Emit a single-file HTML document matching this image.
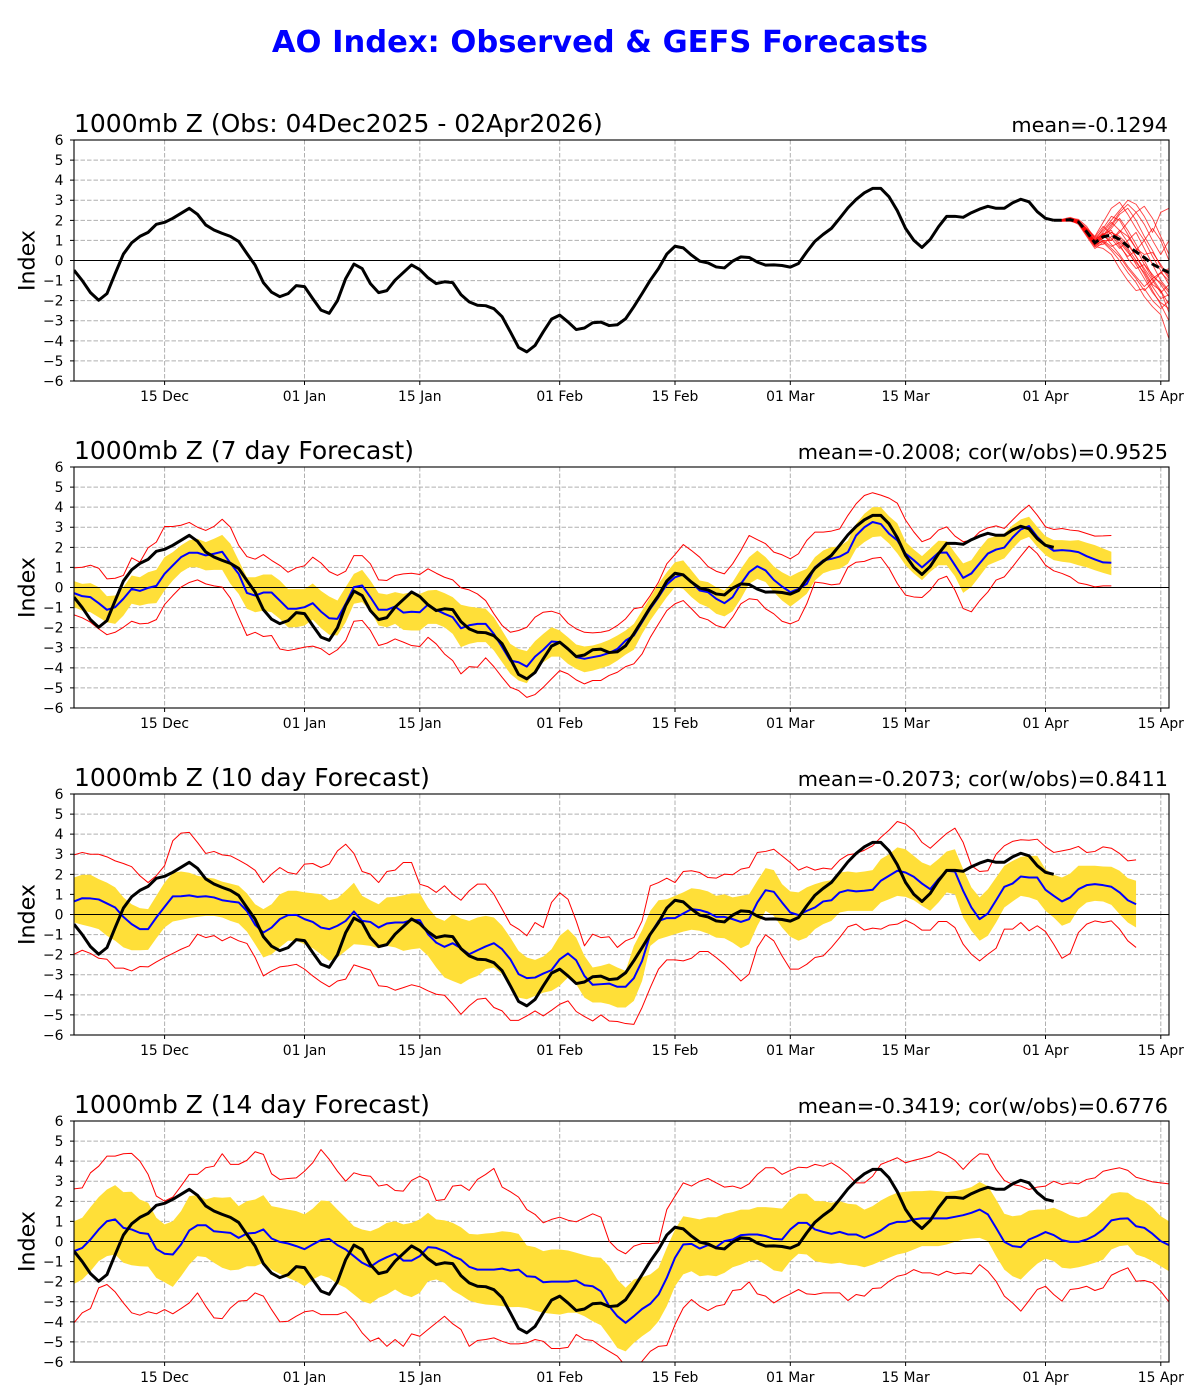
<!DOCTYPE html>
<html><head><meta charset="utf-8"><style>
body{margin:0;background:#fff}
svg{display:block}
text{font-family:"DejaVu Sans","Liberation Sans",sans-serif;fill:#000}
.o{fill:none;stroke:#000;stroke-width:3;stroke-linejoin:round;vector-effect:non-scaling-stroke}
.b{fill:none;stroke:#0000ff;stroke-width:2;stroke-linejoin:round;vector-effect:non-scaling-stroke}
.r{fill:none;stroke:#ff0000;stroke-width:1;stroke-linejoin:round;vector-effect:non-scaling-stroke}
.s{fill:none;stroke:#ff0000;stroke-opacity:0.75;stroke-width:0.9;stroke-linejoin:round;vector-effect:non-scaling-stroke}
.y{fill:#ffdf38;stroke:none}
.z{stroke:#000;stroke-width:1;vector-effect:non-scaling-stroke}
.g{stroke:#b0b0b0;stroke-width:1;stroke-dasharray:4.5,2}
.t{stroke:#000;stroke-width:1}
.yl{font-size:13.9px;text-anchor:end}
.xl{font-size:13.9px;text-anchor:middle}
.tl{font-size:25px}
.tr{font-size:20.8px;text-anchor:end}
.il{font-size:22.2px;text-anchor:middle}
</style></head><body>
<svg width="1200" height="1400" viewBox="0 0 1200 1400" xmlns="http://www.w3.org/2000/svg">
<rect width="1200" height="1400" fill="#fff"/>
<defs>
<clipPath id="clip"><rect x="74" y="0" width="1095" height="241"/></clipPath>
<g id="grid">
<line class="g" x1="74" x2="1169" y1="20.08" y2="20.08"/>
<line class="g" x1="74" x2="1169" y1="40.17" y2="40.17"/>
<line class="g" x1="74" x2="1169" y1="60.25" y2="60.25"/>
<line class="g" x1="74" x2="1169" y1="80.33" y2="80.33"/>
<line class="g" x1="74" x2="1169" y1="100.42" y2="100.42"/>
<line class="g" x1="74" x2="1169" y1="140.58" y2="140.58"/>
<line class="g" x1="74" x2="1169" y1="160.67" y2="160.67"/>
<line class="g" x1="74" x2="1169" y1="180.75" y2="180.75"/>
<line class="g" x1="74" x2="1169" y1="200.83" y2="200.83"/>
<line class="g" x1="74" x2="1169" y1="220.92" y2="220.92"/>
<line class="g" x1="164.6" x2="164.6" y1="0" y2="241"/>
<line class="g" x1="304.5" x2="304.5" y1="0" y2="241"/>
<line class="g" x1="419.8" x2="419.8" y1="0" y2="241"/>
<line class="g" x1="559.7" x2="559.7" y1="0" y2="241"/>
<line class="g" x1="675" x2="675" y1="0" y2="241"/>
<line class="g" x1="790.3" x2="790.3" y1="0" y2="241"/>
<line class="g" x1="905.6" x2="905.6" y1="0" y2="241"/>
<line class="g" x1="1045.5" x2="1045.5" y1="0" y2="241"/>
<line class="g" x1="1160.8" x2="1160.8" y1="0" y2="241"/>
</g>
<g id="ticks">
<path class="t" d="M70 0H74M70 20.08H74M70 40.17H74M70 60.25H74M70 80.33H74M70 100.42H74M70 120.5H74M70 140.58H74M70 160.67H74M70 180.75H74M70 200.83H74M70 220.92H74M70 241H74"/>
<path class="t" d="M164.6 241V245M304.5 241V245M419.8 241V245M559.7 241V245M675 241V245M790.3 241V245M905.6 241V245M1045.5 241V245M1160.8 241V245"/>
<rect x="74" y="0" width="1095" height="241" fill="none" stroke="#000" stroke-width="1.1"/>
</g>
</defs>

<text x="600" y="52" text-anchor="middle" style="font-size:30.56px;font-weight:bold;fill:#0000ff">AO Index: Observed &amp; GEFS Forecasts</text>

<!-- ================= PANEL 1 ================= -->
<g transform="translate(0,140)">
<use href="#grid"/>
<g clip-path="url(#clip)">
<g transform="translate(74,120.5) scale(8.233,-20.083)">
<line class="z" x1="-2" x2="140" y1="0" y2="0"/>
<polyline class="s" points="119,2 120,2.05 121,2.15 122,2 123,1.6 124,1.2 125,1.9 126,2.6 127,2.9 128,2.3 129,1.6 130,1 131,0.2 132,-0.5 133,-1.2"/>
<polyline class="s" points="119,2 120,1.95 121,1.95 122,1.85 123,1.3 124,0.7 125,0.6 126,0.3 127,-0.4 128,-1 129,-1.5 130,-1.4 131,-2 132,-2.4 133,-2"/>
<polyline class="s" points="119,2 120,2 121,2.1 122,2.05 123,1.7 124,1.1 125,1.5 126,2 127,2.5 128,3 129,2.8 130,2.2 131,1.4 132,2.4 133,2.6"/>
<polyline class="s" points="119,2 120,1.98 121,2 122,1.8 123,1.2 124,0.6 125,0.9 126,0.5 127,0 128,-0.6 129,-1.1 130,-1.8 131,-2.3 132,-2.7 133,-3.9"/>
<polyline class="s" points="119,2 120,2.02 121,2.06 122,1.95 123,1.5 124,1 125,1.4 126,1.9 127,1.5 128,0.9 129,0.2 130,-0.4 131,-1 132,-1.6 133,-1.2"/>
<polyline class="s" points="119,2 120,2 121,1.98 122,1.9 123,1.35 124,0.8 125,1 126,1 127,1.4 128,1.9 129,2.4 130,2.7 131,2.1 132,1.2 133,0.3"/>
<polyline class="s" points="119,2 120,2.03 121,2.1 122,1.98 123,1.45 124,0.95 125,1.3 126,0.8 127,0.3 128,-0.3 129,-0.8 130,-1.3 131,-0.9 132,-1.5 133,-2.2"/>
<polyline class="s" points="119,2 120,1.97 121,2 122,1.88 123,1.4 124,0.85 125,1.1 126,1.6 127,2.1 128,1.5 129,0.8 130,0 131,-0.8 132,-1.1 133,-1.6"/>
<polyline class="s" points="119,2 120,2 121,2.04 122,1.96 123,1.55 124,1.15 125,1.7 126,1.3 127,0.7 128,0.2 129,0.5 130,1 131,1.6 132,1 133,0"/>
<polyline class="s" points="119,2 120,2.01 121,2.02 122,1.9 123,1.3 124,0.75 125,0.8 126,1.2 127,1 128,0.5 129,-0.2 130,-0.9 131,-1.6 132,-2.1 133,-2.4"/>
<polyline class="s" points="119,2 120,1.99 121,2.05 122,1.94 123,1.5 124,0.9 125,1.2 126,1.7 127,2.3 128,2.6 129,2 130,1.2 131,0.5 132,-0.3 133,-0.9"/>
<polyline class="s" points="119,2 120,2 121,2 122,1.87 123,1.25 124,0.7 125,1 126,0.7 127,0.9 128,0.4 129,-0.1 130,-0.6 131,-1.3 132,-1.9 133,-1.7"/>
<polyline class="s" points="119,2 120,2.04 121,2.08 122,1.97 123,1.6 124,1.05 125,1.3 126,1.5 127,0.8 128,0.1 129,-0.4 130,-0.2 131,-0.7 132,-1.2 133,-1.8"/>
<polyline class="s" points="119,2 120,1.96 121,2 122,1.9 123,1.45 124,0.9 125,1.2 126,1 127,1.5 128,1.2 129,0.6 130,0.3 131,0.4 132,-0.2 133,-0.8"/>
<polyline class="s" points="119,2 120,2.02 121,2.03 122,1.93 123,1.38 124,0.82 125,1.1 126,1.4 127,1.1 128,0.6 129,0 130,-0.7 131,-1.5 132,-2.2 133,-3"/>
<polyline class="s" points="119,2 120,2 121,2.06 122,1.99 123,1.5 124,1 125,1.6 126,2.2 127,2 128,1.3 129,0.6 130,-0.2 131,-0.9 132,-0.6 133,-0.4"/>
<polyline class="s" points="119,2 120,1.98 121,2.01 122,1.86 123,1.35 124,0.78 125,0.95 126,0.6 127,0.2 128,-0.4 129,-0.9 130,-1.5 131,-1.1 132,-0.6 133,-1"/>
<polyline class="s" points="119,2 120,2 121,2.02 122,1.92 123,1.45 124,0.9 125,1.25 126,1.8 127,2.4 128,2.8 129,2.4 130,1.8 131,1 132,0.3 133,1"/>
<polyline class="s" points="119,2 120,2.01 121,2.04 122,1.95 123,1.48 124,0.95 125,1.35 126,1.1 127,0.6 128,1 129,1.4 130,0.6 131,-0.2 132,-1 133,-1.5"/>
<polyline class="s" points="119,2 120,2 121,2 122,1.91 123,1.4 124,0.85 125,1.15 126,1.4 127,1.2 128,0.8 129,0.2 130,-0.5 131,-1.2 132,-1.5 133,-2.6"/>
<polyline class="o" points="0,-0.48 1,-1 2,-1.6 3,-1.98 4,-1.65 5,-0.65 6,0.32 7,0.88 8,1.2 9,1.4 10,1.8 11,1.9 12,2.1 13,2.35 14,2.6 15,2.3 16,1.77 17,1.52 18,1.35 19,1.2 20,0.95 21,0.35 22,-0.23 23,-1.1 24,-1.58 25,-1.8 26,-1.65 27,-1.25 28,-1.3 29,-1.9 30,-2.47 31,-2.63 32,-2 33,-0.9 34,-0.18 35,-0.4 36,-1.15 37,-1.6 38,-1.5 39,-0.98 40,-0.6 41,-0.22 42,-0.45 43,-0.86 44,-1.15 45,-1.06 46,-1.1 47,-1.7 48,-2.06 49,-2.23 50,-2.25 51,-2.4 52,-2.8 53,-3.55 54,-4.33 55,-4.55 56,-4.23 57,-3.55 58,-2.92 59,-2.72 60,-3.06 61,-3.44 62,-3.36 63,-3.1 64,-3.07 65,-3.24 66,-3.2 67,-2.9 68,-2.3 69,-1.65 70,-0.98 71,-0.4 72,0.32 73,0.71 74,0.63 75,0.27 76,-0.03 77,-0.12 78,-0.32 79,-0.37 80,-0.03 81,0.18 82,0.15 83,-0.08 84,-0.23 85,-0.22 86,-0.25 87,-0.33 88,-0.15 89,0.43 90,0.96 91,1.3 92,1.6 93,2.1 94,2.62 95,3.04 96,3.37 97,3.59 98,3.59 99,3.17 100,2.48 101,1.6 102,1.01 103,0.65 104,1.05 105,1.68 106,2.2 107,2.2 108,2.15 109,2.38 110,2.56 111,2.7 112,2.6 113,2.6 114,2.87 115,3.05 116,2.92 117,2.43 118,2.1 119,2"/>
</g>
<polyline points="1053.7,80.3 1062,80.3 1070.2,79.7 1078.4,81.9 1086.7,91.8 1094.9,102.8 1103.1,96.8 1111.4,95.2 1119.6,99.4 1127.8,106.2 1136.1,111.9 1144.3,117.5 1152.5,124.1 1160.8,128.5 1169,132.5" fill="none" stroke="#000" stroke-width="3" stroke-dasharray="8,4"/>
</g>
<use href="#ticks"/>
<text class="tl" x="74" y="-8">1000mb Z (Obs: 04Dec2025 - 02Apr2026)</text>
<text class="tr" x="1168" y="-8">mean=-0.1294</text>
<text class="il" transform="translate(34.5,120.5) rotate(-90)">Index</text>
<g class="yl"><text x="63.5" y="5">6</text><text x="63.5" y="25.1">5</text><text x="63.5" y="45.2">4</text><text x="63.5" y="65.2">3</text><text x="63.5" y="85.3">2</text><text x="63.5" y="105.4">1</text><text x="63.5" y="125.5">0</text><text x="63.5" y="145.6">−1</text><text x="63.5" y="165.7">−2</text><text x="63.5" y="185.7">−3</text><text x="63.5" y="205.8">−4</text><text x="63.5" y="225.9">−5</text><text x="63.5" y="246">−6</text></g>
<g class="xl"><text x="164.6" y="261">15 Dec</text><text x="304.5" y="261">01 Jan</text><text x="419.8" y="261">15 Jan</text><text x="559.7" y="261">01 Feb</text><text x="675" y="261">15 Feb</text><text x="790.3" y="261">01 Mar</text><text x="905.6" y="261">15 Mar</text><text x="1045.5" y="261">01 Apr</text><text x="1160.8" y="261">15 Apr</text></g>
</g>

<!-- ================= PANEL 2 ================= -->
<g transform="translate(0,467)">
<use href="#grid"/>
<g clip-path="url(#clip)">
<g transform="translate(74,120.5) scale(8.233,-20.083)">
<polygon class="y" points="0,0.32 1,0.18 2,0.22 3,0.02 4,-0.43 5,-0.4 6,0.02 7,0.6 8,0.51 9,0.76 10,0.88 11,1.51 12,1.76 13,2.1 14,2.35 15,2.43 16,2.26 17,2.43 18,2.62 19,2.18 20,1.35 21,0.51 22,0.51 23,0.65 24,0.65 25,0.35 26,-0.08 27,-0.08 28,-0.08 29,0.2 30,-0.17 31,-0.45 32,-0.65 33,0.02 34,0.68 35,0.88 36,0.35 37,-0.28 38,-0.35 39,-0.23 40,-0.32 41,-0.23 42,-0.32 43,-0.15 44,-0.12 45,-0.28 46,-0.48 47,-0.86 48,-0.95 49,-1.01 50,-1.06 51,-1.48 52,-2.14 53,-2.81 54,-3.06 55,-3.17 56,-2.67 57,-2.31 58,-1.98 59,-2.14 60,-2.48 61,-2.84 62,-2.94 63,-2.89 64,-2.77 65,-2.61 66,-2.39 67,-2.14 68,-1.81 69,-1.15 70,-0.48 71,0.18 72,0.76 73,1.26 74,1.35 75,0.85 76,0.35 77,0.27 78,0.02 79,-0.15 80,0.27 81,0.93 82,1.51 83,1.84 84,1.51 85,1.05 86,0.76 87,0.55 88,0.76 89,0.93 90,1.51 91,1.84 92,2.01 93,2.04 94,2.34 95,3.17 96,3.67 97,4 98,4 99,3.55 100,3.2 101,2.28 102,1.89 103,1.56 104,1.94 105,2.33 106,2.31 107,1.73 108,1.2 109,1.36 110,1.94 111,2.44 112,2.56 113,2.69 114,3.1 115,3.39 116,3.52 117,3.02 118,2.56 119,2.36 120,2.36 121,2.33 122,2.36 123,2.23 124,2.11 125,1.94 126,1.78 126,0.61 125,0.73 124,0.86 123,1 122,1.11 121,1.23 120,1.28 119,1.36 118,1.61 117,2.03 116,2.52 115,2.36 114,1.94 113,1.45 112,1.28 111,1.11 110,0.56 109,0.03 108,-0.27 107,0.56 106,1.11 105,1.11 104,0.78 103,0.37 102,0.7 101,1.11 100,1.7 99,2.19 98,2.55 97,2.51 96,2.26 95,1.93 94,1.18 93,0.93 92,0.85 91,0.71 90,0.35 89,-0.32 88,-0.65 87,-0.95 86,-0.65 85,-0.23 84,0.27 83,0.43 82,0.18 81,-0.56 80,-1.18 79,-1.44 78,-1.31 77,-0.98 76,-0.81 75,-0.48 74,-0.07 73,0.02 72,-0.48 71,-1.06 70,-1.64 69,-2.31 68,-3.1 67,-3.34 66,-3.64 65,-3.89 64,-4.02 63,-4.14 62,-4.22 61,-4.05 60,-3.8 59,-3.44 58,-3.44 57,-3.72 56,-4.14 55,-4.77 54,-4.63 53,-4.3 52,-3.72 51,-3.14 50,-2.72 49,-2.72 48,-2.81 47,-2.97 46,-2.31 45,-1.98 44,-1.81 43,-1.81 42,-2.14 41,-2.14 40,-2.11 39,-1.81 38,-1.98 37,-1.89 36,-1.15 35,-0.73 34,-0.81 33,-1.73 32,-2.39 31,-2.35 30,-2.02 29,-1.6 28,-1.89 27,-1.98 26,-1.98 25,-1.56 24,-1.23 23,-1.15 22,-1.23 21,-1.06 20,-0.32 19,0.18 18,0.88 17,0.88 16,0.85 15,1.01 14,1.01 13,0.76 12,0.35 11,-0.15 10,-0.78 9,-0.81 8,-0.9 7,-0.81 6,-1.4 5,-1.81 4,-1.73 3,-1.48 2,-1.23 1,-1.15 0,-0.98"/>
<line class="z" x1="-2" x2="140" y1="0" y2="0"/>
<polyline class="r" points="0,0.98 1,1.01 2,1.11 3,0.96 4,0.43 5,0.46 6,0.6 7,1.48 8,1.26 9,1.98 10,2.26 11,3.04 12,3.04 13,3.1 14,3.24 15,3 16,2.84 17,3.04 18,3.4 19,3 20,2.1 21,1.54 22,1.41 23,1.64 24,1.35 25,1.1 26,0.76 27,0.98 28,1.08 29,1.51 30,1.22 31,0.79 32,0.6 33,0.81 34,1.59 35,1.59 36,1.18 37,0.38 38,0.35 39,0.6 40,0.68 41,0.71 42,0.65 43,0.93 44,0.71 45,0.51 46,0.38 47,-0.02 48,-0.12 49,-0.32 50,-0.65 51,-1.31 52,-1.89 53,-2.23 54,-2.14 55,-1.98 56,-1.48 57,-1.23 58,-1.18 59,-1.31 60,-1.78 61,-2.06 62,-2.23 63,-2.26 64,-2.23 65,-2.14 66,-1.89 67,-1.56 68,-1.06 69,-0.98 70,-0.4 71,0.27 72,1.18 73,1.64 74,2.14 75,1.84 76,1.51 77,1.05 78,0.81 79,0.68 80,1.18 81,1.84 82,2.59 83,2.38 84,2.18 85,1.76 86,1.63 87,1.43 88,1.68 89,2.34 90,2.76 91,2.76 92,2.81 93,2.92 94,3.59 95,4.17 96,4.58 97,4.72 98,4.6 99,4.45 100,4.2 101,3.36 102,2.77 103,2.28 104,2.44 105,2.86 106,3.02 107,2.56 108,2.28 109,2.36 110,2.77 111,2.97 112,3.07 113,2.94 114,3.36 115,3.77 116,4.1 117,3.6 118,3.02 119,2.89 120,2.94 121,2.86 122,2.82 123,2.69 124,2.56 125,2.57 126,2.59"/>
<polyline class="r" points="0,-1.36 1,-1.51 2,-1.73 3,-2.06 4,-2.35 5,-2.23 6,-1.98 7,-1.68 8,-1.81 9,-1.78 10,-1.6 11,-0.85 12,-0.4 13,0.02 14,0.25 15,0.38 16,0.18 17,0.08 18,0.02 19,-0.53 20,-1.48 21,-2.39 22,-2.23 23,-2.44 24,-2.39 25,-3.06 26,-3.14 27,-3.06 28,-2.97 29,-2.92 30,-3.05 31,-3.35 32,-3.1 33,-2.64 34,-1.68 35,-1.64 36,-2.14 37,-2.89 38,-2.77 39,-2.56 40,-2.72 41,-2.89 42,-2.94 43,-2.48 44,-2.81 45,-3.31 46,-3.64 47,-4.3 48,-3.94 49,-3.97 50,-3.5 51,-3.94 52,-4.47 53,-4.97 54,-5.13 55,-5.47 56,-5.33 57,-4.97 58,-4.55 59,-4.14 60,-4.3 61,-4.6 62,-4.8 63,-4.63 64,-4.63 65,-4.38 66,-4.22 67,-3.94 68,-3.8 69,-3.31 70,-2.48 71,-1.81 72,-1.15 73,-0.81 74,-0.65 75,-1.06 76,-1.48 77,-1.61 78,-1.89 79,-2.01 80,-1.48 81,-0.81 82,-0.56 83,-0.61 84,-1.06 85,-1.31 86,-1.68 87,-1.81 88,-1.64 89,-0.81 90,0.27 91,0.22 92,0.13 93,0.18 94,1.01 95,1.26 96,1.3 97,1.45 98,1.5 99,0.95 100,0.2 101,-0.38 102,-0.47 103,-0.5 104,-0.13 105,0.4 106,0.56 107,-0.13 108,-1.05 109,-1.21 110,-0.66 111,-0.22 112,0.37 113,0.53 114,1.03 115,1.56 116,2.06 117,1.69 118,1.11 119,0.83 120,0.7 121,0.53 122,0.23 123,0.15 124,0.03 125,0.08 126,0.08"/>
<polyline class="b" points="0,-0.28 1,-0.43 2,-0.48 3,-0.78 4,-1.11 5,-0.98 6,-0.56 7,-0.07 8,-0.17 9,-0.02 10,0.08 11,0.68 12,1.1 13,1.51 14,1.73 15,1.73 16,1.6 17,1.68 18,1.78 19,1.21 20,0.68 21,-0.27 22,-0.4 23,-0.25 24,-0.25 25,-0.65 26,-1.06 27,-1.06 28,-0.98 29,-0.78 30,-1.2 31,-1.53 32,-1.56 33,-0.81 34,0.02 35,0.1 36,-0.48 37,-1.11 38,-1.11 39,-0.95 40,-1.25 41,-1.21 42,-1.23 43,-0.85 44,-1.11 45,-1.31 46,-1.48 47,-2.03 48,-1.88 49,-1.81 50,-1.81 51,-2.31 52,-2.97 53,-3.64 54,-3.72 55,-3.94 56,-3.44 57,-3.1 58,-2.69 59,-2.72 60,-3.06 61,-3.47 62,-3.55 63,-3.47 64,-3.39 65,-3.26 66,-3.06 67,-2.64 68,-2.39 69,-1.73 70,-1.06 71,-0.48 72,0.15 73,0.51 74,0.65 75,0.27 76,-0.15 77,-0.23 78,-0.56 79,-0.78 80,-0.48 81,0.18 82,0.76 83,1.06 84,0.85 85,0.38 86,0.05 87,-0.23 88,-0.07 89,0.18 90,1.01 91,1.35 92,1.43 93,1.54 94,1.76 95,2.59 96,3 97,3.26 98,3.16 99,2.68 100,2.35 101,1.69 102,1.36 103,1 104,1.36 105,1.73 106,1.74 107,1.11 108,0.48 109,0.7 110,1.2 111,1.69 112,1.89 113,1.99 114,2.49 115,2.89 116,3.06 117,2.52 118,2.11 119,1.83 120,1.86 121,1.83 122,1.76 123,1.56 124,1.4 125,1.25 126,1.23"/>
<polyline class="o" points="0,-0.48 1,-1 2,-1.6 3,-1.98 4,-1.65 5,-0.65 6,0.32 7,0.88 8,1.2 9,1.4 10,1.8 11,1.9 12,2.1 13,2.35 14,2.6 15,2.3 16,1.77 17,1.52 18,1.35 19,1.2 20,0.95 21,0.35 22,-0.23 23,-1.1 24,-1.58 25,-1.8 26,-1.65 27,-1.25 28,-1.3 29,-1.9 30,-2.47 31,-2.63 32,-2 33,-0.9 34,-0.18 35,-0.4 36,-1.15 37,-1.6 38,-1.5 39,-0.98 40,-0.6 41,-0.22 42,-0.45 43,-0.86 44,-1.15 45,-1.06 46,-1.1 47,-1.7 48,-2.06 49,-2.23 50,-2.25 51,-2.4 52,-2.8 53,-3.55 54,-4.33 55,-4.55 56,-4.23 57,-3.55 58,-2.92 59,-2.72 60,-3.06 61,-3.44 62,-3.36 63,-3.1 64,-3.07 65,-3.24 66,-3.2 67,-2.9 68,-2.3 69,-1.65 70,-0.98 71,-0.4 72,0.32 73,0.71 74,0.63 75,0.27 76,-0.03 77,-0.12 78,-0.32 79,-0.37 80,-0.03 81,0.18 82,0.15 83,-0.08 84,-0.23 85,-0.22 86,-0.25 87,-0.33 88,-0.15 89,0.43 90,0.96 91,1.3 92,1.6 93,2.1 94,2.62 95,3.04 96,3.37 97,3.59 98,3.59 99,3.17 100,2.48 101,1.6 102,1.01 103,0.65 104,1.05 105,1.68 106,2.2 107,2.2 108,2.15 109,2.38 110,2.56 111,2.7 112,2.6 113,2.6 114,2.87 115,3.05 116,2.92 117,2.43 118,2.1 119,2"/>
</g>
</g>
<use href="#ticks"/>
<text class="tl" x="74" y="-8">1000mb Z (7 day Forecast)</text>
<text class="tr" x="1168" y="-8">mean=-0.2008; cor(w/obs)=0.9525</text>
<text class="il" transform="translate(34.5,120.5) rotate(-90)">Index</text>
<g class="yl"><text x="63.5" y="5">6</text><text x="63.5" y="25.1">5</text><text x="63.5" y="45.2">4</text><text x="63.5" y="65.2">3</text><text x="63.5" y="85.3">2</text><text x="63.5" y="105.4">1</text><text x="63.5" y="125.5">0</text><text x="63.5" y="145.6">−1</text><text x="63.5" y="165.7">−2</text><text x="63.5" y="185.7">−3</text><text x="63.5" y="205.8">−4</text><text x="63.5" y="225.9">−5</text><text x="63.5" y="246">−6</text></g>
<g class="xl"><text x="164.6" y="261">15 Dec</text><text x="304.5" y="261">01 Jan</text><text x="419.8" y="261">15 Jan</text><text x="559.7" y="261">01 Feb</text><text x="675" y="261">15 Feb</text><text x="790.3" y="261">01 Mar</text><text x="905.6" y="261">15 Mar</text><text x="1045.5" y="261">01 Apr</text><text x="1160.8" y="261">15 Apr</text></g>
</g>

<!-- ================= PANEL 3 ================= -->
<g transform="translate(0,794)">
<use href="#grid"/>
<g clip-path="url(#clip)">
<g transform="translate(74,120.5) scale(8.233,-20.083)">
<polygon class="y" points="0,1.84 1,1.98 2,1.98 3,1.76 4,1.59 5,1.35 6,0.85 7,0.51 8,0.32 9,0.27 10,0.93 11,1.59 12,2.08 13,2.14 14,2.08 15,1.93 16,1.84 17,1.79 18,1.64 19,1.54 20,1.43 21,1.05 22,0.51 23,0.27 24,0.51 25,1.01 26,1.18 27,1.18 28,1.1 29,1.06 30,1.01 31,0.71 32,0.81 33,1.18 34,1.58 35,0.93 36,0.71 37,0.51 38,0.85 39,0.88 40,0.96 41,1.05 42,1.05 43,0.35 44,-0.15 45,-0.32 46,0.02 47,-0.2 48,-0.32 49,-0.15 50,-0.07 51,-0.15 52,-0.56 53,-1.15 54,-1.81 55,-2.14 56,-2.26 57,-2.09 58,-1.73 59,-1.06 60,-0.73 61,-1.15 62,-2.06 63,-2.64 64,-2.56 65,-2.44 66,-2.64 67,-2.81 68,-1.56 69,-0.78 70,0.18 71,0.71 72,0.76 73,0.93 74,1.1 75,1.31 76,1.26 77,1.15 78,0.93 79,1.01 80,0.85 81,0.93 82,1.01 83,1.68 84,2.31 85,2.21 86,1.51 87,1.15 88,1.1 89,1.35 90,1.51 91,1.64 92,1.71 93,2.09 94,2.14 95,2.09 96,2.14 97,2.21 98,2.76 99,3 100,3.34 101,3.25 102,2.92 103,2.59 104,2.43 105,2.76 106,3.14 107,3.25 108,2.26 109,1.35 110,0.85 111,1.26 112,1.84 113,2.43 114,2.67 115,2.87 116,2.92 117,2.92 118,2.26 119,1.98 120,1.84 121,2.04 122,2.43 123,2.43 124,2.43 125,2.39 126,2.38 127,2.18 128,1.81 129,1.68 129,-0.65 128,-0.4 127,0.02 126,0.48 125,0.65 124,0.68 123,0.6 122,0.27 121,-0.4 120,-0.56 119,-0.15 118,0.18 117,0.71 116,0.85 115,0.93 114,0.65 113,0.35 112,-0.4 111,-1.06 110,-1.31 109,-0.81 108,-0.15 107,1.01 106,1.1 105,0.6 104,0.18 103,0.43 102,0.71 101,0.88 100,0.93 99,0.76 98,0.6 97,0.18 96,0.18 95,0.18 94,0.18 93,0.1 92,-0.32 91,-0.48 90,-0.73 89,-1.15 88,-1.31 87,-1.11 86,-0.65 85,-0.07 84,0.18 83,-0.56 82,-1.48 81,-1.68 80,-1.4 79,-1.18 78,-1.15 77,-0.95 76,-0.81 75,-0.76 74,-0.85 73,-0.98 72,-1.11 71,-1.23 70,-1.56 69,-3.31 68,-4.3 67,-4.63 66,-4.63 65,-4.47 64,-4.38 63,-4.38 62,-4.14 61,-3.47 60,-3.14 59,-3.55 58,-3.8 57,-3.89 56,-4.05 55,-4.22 54,-4.14 53,-3.64 52,-2.97 51,-2.64 50,-2.72 49,-3.06 48,-3.22 47,-3.47 46,-3.31 45,-3.14 44,-2.64 43,-2.06 42,-1.68 41,-1.73 40,-1.81 39,-1.64 38,-1.56 37,-1.68 36,-1.56 35,-1.51 34,-1.48 33,-1.81 32,-2.14 31,-2.31 30,-1.98 29,-1.68 28,-1.48 27,-1.31 26,-1.31 25,-1.64 24,-1.98 23,-2.14 22,-1.48 21,-0.85 20,-0.45 19,-0.32 18,-0.15 17,-0.07 16,-0.07 15,-0.12 14,-0.18 13,-0.27 12,-0.35 11,-0.65 10,-1.18 9,-1.76 8,-1.78 7,-1.78 6,-1.64 5,-1.31 4,-1.06 3,-0.73 2,-0.61 1,-0.51 0,-0.4"/>
<line class="z" x1="-2" x2="140" y1="0" y2="0"/>
<polyline class="r" points="0,2.97 1,3.09 2,3 3,3 4,2.87 5,2.67 6,2.54 7,2.38 8,1.93 9,1.59 10,1.93 11,2.43 12,3.67 13,4.05 14,4.09 15,3.59 16,3.04 17,3.14 18,2.97 19,2.92 20,2.71 21,2.48 22,2.2 23,1.59 24,2.01 25,2.34 26,2.09 27,2.01 28,2.51 29,2.54 30,2.34 31,2.51 32,3.17 33,3.5 34,3.04 35,2.14 36,2.01 37,1.59 38,2.14 39,2.21 40,2.59 41,2.59 42,1.51 43,1.38 44,1.1 45,1.43 46,1.01 47,0.71 48,1.18 49,1.51 50,1.51 51,1.01 52,0.27 53,-0.48 54,-0.73 55,-1.06 56,-0.4 57,-0.65 58,0.6 59,1.08 60,0.76 61,-0.32 62,-1.56 63,-0.98 64,-1.15 65,-1.11 66,-1.64 67,-1.31 68,-1.15 69,-0.32 70,1.43 71,1.59 72,1.81 73,1.59 74,2.14 75,2.18 76,2.09 77,1.84 78,1.81 79,2.01 80,1.98 81,2.26 82,2.34 83,3.09 84,3.14 85,3.25 86,2.92 87,2.59 88,2.21 89,2.38 90,2.21 91,2.31 92,2.26 93,2.71 94,2.97 95,3.04 96,3.2 97,3.42 98,3.84 99,4.2 100,4.63 101,4.5 102,4.17 103,3.59 104,3.3 105,3.67 106,4.04 107,4.3 108,3.59 109,2.43 110,2.14 111,2.18 112,3 113,3.42 114,3.64 115,3.72 116,3.7 117,3.75 118,3.37 119,3.09 120,3.17 121,3.25 122,3.39 123,3.09 124,3.14 125,3.37 126,3.3 127,3.04 128,2.67 129,2.72"/>
<polyline class="r" points="0,-1.98 1,-1.78 2,-1.94 3,-2.18 4,-2.23 5,-2.67 6,-2.67 7,-2.81 8,-2.59 9,-2.61 10,-2.36 11,-2.14 12,-1.94 13,-1.73 14,-1.56 15,-0.98 16,-1.15 17,-1.05 18,-1.31 19,-1.11 20,-1.31 21,-1.44 22,-2.14 23,-3.06 24,-2.81 25,-2.61 26,-2.56 27,-2.48 28,-2.72 29,-3.06 30,-3.36 31,-3.6 32,-3.31 33,-3.22 34,-2.51 35,-2.64 36,-2.77 37,-3.55 38,-3.59 39,-3.77 40,-3.64 41,-3.5 42,-3.6 43,-3.8 44,-3.97 45,-4.02 46,-4.47 47,-4.97 48,-4.55 49,-4.22 50,-4.17 51,-4.63 52,-4.8 53,-5.27 54,-5.27 55,-5.05 56,-4.8 57,-5.05 58,-4.77 59,-4.47 60,-4.3 61,-4.83 62,-5.08 63,-5.3 64,-5 65,-5.3 66,-5.33 67,-5.43 68,-5.47 69,-4.63 70,-3.64 71,-2.72 72,-2.26 73,-2.26 74,-2.31 75,-2.18 76,-1.84 77,-1.84 78,-2.14 79,-2.48 80,-2.89 81,-3.31 82,-2.97 83,-1.64 84,-1.01 85,-1.31 86,-2.06 87,-2.72 88,-2.72 89,-2.48 90,-2.14 91,-2.06 92,-1.64 93,-1.15 94,-0.61 95,-0.48 96,-0.78 97,-0.68 98,-0.73 99,-0.53 100,-0.48 101,-0.28 102,-0.48 103,-0.78 104,-0.78 105,-0.35 106,-0.35 107,-0.65 108,-1.48 109,-1.98 110,-2.31 111,-1.98 112,-1.68 113,-0.73 114,-0.73 115,-0.4 116,-0.81 117,-0.56 118,-0.85 119,-1.48 120,-2.18 121,-1.94 122,-0.9 123,-0.48 124,-0.32 125,-0.4 126,-0.32 127,-0.73 128,-1.31 129,-1.64"/>
<polyline class="b" points="0,0.65 1,0.81 2,0.8 3,0.75 4,0.55 5,0.35 6,-0.12 7,-0.48 8,-0.73 9,-0.73 10,-0.15 11,0.38 12,0.9 13,0.91 14,0.95 15,0.88 16,0.91 17,0.85 18,0.71 19,0.65 20,0.6 21,0.18 22,-0.51 23,-0.9 24,-0.65 25,-0.23 26,-0.03 27,-0.02 28,-0.23 29,-0.37 30,-0.65 31,-0.73 32,-0.56 33,-0.32 34,0.15 35,-0.32 36,-0.37 37,-0.65 38,-0.45 39,-0.4 40,-0.4 41,-0.28 42,-0.28 43,-0.98 44,-1.4 45,-1.61 46,-1.43 47,-1.68 48,-1.98 49,-1.78 50,-1.59 51,-1.43 52,-1.73 53,-2.23 54,-2.97 55,-3.17 56,-3.14 57,-2.94 58,-2.77 59,-2.23 60,-1.94 61,-2.28 62,-3.06 63,-3.5 64,-3.47 65,-3.44 66,-3.6 67,-3.6 68,-3.17 69,-2.31 70,-0.98 71,-0.32 72,-0.18 73,-0.18 74,0.05 75,0.27 76,0.22 77,0.1 78,-0.12 79,-0.12 80,-0.23 81,-0.37 82,-0.23 83,0.6 84,1.21 85,1.13 86,0.6 87,0.1 88,-0.03 89,0.18 90,0.35 91,0.65 92,0.71 93,1.1 94,1.21 95,1.15 96,1.18 97,1.23 98,1.68 99,1.93 100,2.18 101,2.09 102,1.88 103,1.54 104,1.26 105,1.76 106,2.18 107,2.14 108,1.18 109,0.35 110,-0.23 111,0.05 112,0.71 113,1.38 114,1.54 115,1.89 116,1.84 117,1.84 118,1.23 119,0.93 120,0.65 121,0.85 122,1.26 123,1.46 124,1.51 125,1.46 126,1.38 127,1.1 128,0.71 129,0.51"/>
<polyline class="o" points="0,-0.48 1,-1 2,-1.6 3,-1.98 4,-1.65 5,-0.65 6,0.32 7,0.88 8,1.2 9,1.4 10,1.8 11,1.9 12,2.1 13,2.35 14,2.6 15,2.3 16,1.77 17,1.52 18,1.35 19,1.2 20,0.95 21,0.35 22,-0.23 23,-1.1 24,-1.58 25,-1.8 26,-1.65 27,-1.25 28,-1.3 29,-1.9 30,-2.47 31,-2.63 32,-2 33,-0.9 34,-0.18 35,-0.4 36,-1.15 37,-1.6 38,-1.5 39,-0.98 40,-0.6 41,-0.22 42,-0.45 43,-0.86 44,-1.15 45,-1.06 46,-1.1 47,-1.7 48,-2.06 49,-2.23 50,-2.25 51,-2.4 52,-2.8 53,-3.55 54,-4.33 55,-4.55 56,-4.23 57,-3.55 58,-2.92 59,-2.72 60,-3.06 61,-3.44 62,-3.36 63,-3.1 64,-3.07 65,-3.24 66,-3.2 67,-2.9 68,-2.3 69,-1.65 70,-0.98 71,-0.4 72,0.32 73,0.71 74,0.63 75,0.27 76,-0.03 77,-0.12 78,-0.32 79,-0.37 80,-0.03 81,0.18 82,0.15 83,-0.08 84,-0.23 85,-0.22 86,-0.25 87,-0.33 88,-0.15 89,0.43 90,0.96 91,1.3 92,1.6 93,2.1 94,2.62 95,3.04 96,3.37 97,3.59 98,3.59 99,3.17 100,2.48 101,1.6 102,1.01 103,0.65 104,1.05 105,1.68 106,2.2 107,2.2 108,2.15 109,2.38 110,2.56 111,2.7 112,2.6 113,2.6 114,2.87 115,3.05 116,2.92 117,2.43 118,2.1 119,2"/>
</g>
</g>
<use href="#ticks"/>
<text class="tl" x="74" y="-8">1000mb Z (10 day Forecast)</text>
<text class="tr" x="1168" y="-8">mean=-0.2073; cor(w/obs)=0.8411</text>
<text class="il" transform="translate(34.5,120.5) rotate(-90)">Index</text>
<g class="yl"><text x="63.5" y="5">6</text><text x="63.5" y="25.1">5</text><text x="63.5" y="45.2">4</text><text x="63.5" y="65.2">3</text><text x="63.5" y="85.3">2</text><text x="63.5" y="105.4">1</text><text x="63.5" y="125.5">0</text><text x="63.5" y="145.6">−1</text><text x="63.5" y="165.7">−2</text><text x="63.5" y="185.7">−3</text><text x="63.5" y="205.8">−4</text><text x="63.5" y="225.9">−5</text><text x="63.5" y="246">−6</text></g>
<g class="xl"><text x="164.6" y="261">15 Dec</text><text x="304.5" y="261">01 Jan</text><text x="419.8" y="261">15 Jan</text><text x="559.7" y="261">01 Feb</text><text x="675" y="261">15 Feb</text><text x="790.3" y="261">01 Mar</text><text x="905.6" y="261">15 Mar</text><text x="1045.5" y="261">01 Apr</text><text x="1160.8" y="261">15 Apr</text></g>
</g>

<!-- ================= PANEL 4 ================= -->
<g transform="translate(0,1121)">
<use href="#grid"/>
<g clip-path="url(#clip)">
<g transform="translate(74,120.5) scale(8.233,-20.083)">
<polygon class="y" points="0,1.01 1,1.18 2,1.71 3,2.21 4,2.59 5,2.81 6,2.46 7,2.48 8,2.09 9,1.93 10,1.18 11,0.85 12,1.01 13,1.51 14,2.26 15,2.31 16,2.09 17,2.21 18,2.18 19,2.21 20,1.76 21,2.01 22,2.09 23,2.31 24,1.76 25,1.68 26,1.59 27,1.51 28,1.35 29,1.64 30,2.04 31,2.01 32,1.59 33,1.18 34,0.76 35,0.6 36,0.51 37,0.68 38,0.93 39,1.01 40,0.85 41,0.93 42,1.1 43,1.43 44,1.1 45,1.05 46,0.93 47,0.71 48,0.38 49,0.35 50,0.4 51,0.43 52,0.51 53,0.47 54,0.38 55,-0.2 56,-0.28 57,-0.48 58,-0.4 59,-0.4 60,-0.45 61,-0.56 62,-0.68 63,-0.78 64,-0.81 65,-1.23 66,-1.89 67,-2.3 68,-1.89 69,-1.78 70,-1.64 71,-1.31 72,-0.32 73,0.6 74,1.26 75,1.18 76,1.1 77,1.21 78,1.21 79,1.38 80,1.46 81,1.59 82,1.59 83,1.71 84,1.71 85,1.68 86,1.64 87,2.09 88,2.38 89,2.38 90,2.01 91,2.01 92,1.93 93,2.01 94,1.88 95,1.84 96,1.59 97,1.76 98,2.04 99,2.26 100,2.43 101,2.48 102,2.51 103,2.51 104,2.54 105,2.51 106,2.46 107,2.51 108,2.59 109,2.71 110,2.96 111,2.76 112,2.09 113,1.38 114,1.26 115,1.31 116,1.54 117,1.59 118,1.59 119,1.68 120,1.51 121,1.31 122,1.18 123,1.26 124,1.59 125,1.98 126,2.38 127,2.46 128,2.43 129,2.14 130,2.01 131,1.68 132,1.26 133,1.01 133,-1.48 132,-1.23 131,-0.98 130,-0.78 129,-0.65 128,-0.18 127,-0.23 126,-0.4 125,-0.9 124,-1.06 123,-1.18 122,-1.28 121,-1.35 120,-1.31 119,-0.98 118,-0.85 117,-1.11 116,-1.48 115,-1.89 114,-1.73 113,-1.4 112,-0.73 111,0.02 110,0.18 109,0.15 108,0.1 107,-0.02 106,-0.15 105,-0.23 104,-0.23 103,-0.23 102,-0.4 101,-0.56 100,-0.65 99,-0.81 98,-0.98 97,-1.15 96,-1.28 95,-1.18 94,-1.15 93,-1.06 92,-1.11 91,-1.06 90,-0.98 89,-0.65 88,-0.61 87,-0.98 86,-1.51 85,-1.44 84,-1.15 83,-0.9 82,-0.98 81,-1.15 80,-1.28 79,-1.56 78,-1.73 77,-1.68 76,-1.73 75,-1.48 74,-1.64 73,-2.23 72,-3.22 71,-3.97 70,-4.43 69,-4.72 68,-5.05 67,-5.47 66,-5.3 65,-4.72 64,-4.17 63,-3.97 62,-3.72 61,-3.55 60,-3.55 59,-3.64 58,-3.6 57,-3.55 56,-3.44 55,-3.31 54,-3.26 53,-3.27 52,-3.22 51,-3.17 50,-3.14 49,-3.06 48,-2.94 47,-2.67 46,-2.44 45,-2.06 44,-1.89 43,-1.98 42,-2.56 41,-2.77 40,-2.64 39,-2.39 38,-2.64 37,-2.81 36,-3.1 35,-2.97 34,-2.64 33,-2.31 32,-2.11 31,-1.81 30,-1.68 29,-1.89 28,-2.23 27,-1.98 26,-1.81 25,-1.61 24,-1.4 23,-1.06 22,-1.23 21,-1.23 20,-1.4 19,-1.44 18,-1.31 17,-1.06 16,-0.78 15,-0.73 14,-1.15 13,-1.73 12,-2.26 11,-2.03 10,-1.81 9,-1.25 8,-1.23 7,-1.18 6,-1.06 5,-0.65 4,-0.73 3,-0.98 2,-1.48 1,-1.89 0,-2.11"/>
<line class="z" x1="-2" x2="140" y1="0" y2="0"/>
<polyline class="r" points="0,2.62 1,2.67 2,3.42 3,3.75 4,4.25 5,4.25 6,4.37 7,4.39 8,4 9,3.34 10,2.26 11,2.01 12,2.21 13,2.76 14,3.34 15,3.34 16,3.67 17,3.75 18,4.37 19,3.84 20,3.84 21,4.04 22,4.47 23,4.34 24,3.37 25,3.09 26,3.14 27,3.17 28,3.5 29,3.92 30,4.58 31,4.09 32,3.5 33,3 34,3.42 35,3.3 36,3.25 37,2.76 38,2.84 39,2.54 40,2.51 41,3.04 42,3.25 43,3.04 44,2.04 45,2.09 46,2.76 47,2.81 48,2.54 49,3.09 50,3.34 51,3.64 52,2.71 53,2.48 54,2.21 55,1.59 56,1.35 57,0.93 58,1.1 59,1.21 60,1.06 61,0.98 62,1.18 63,1.38 64,1.21 65,0.02 66,-0.4 67,-0.61 68,-0.23 69,-0.1 70,-0.1 71,-0.07 72,1.59 73,2.26 74,2.92 75,2.76 76,3 77,3.14 78,2.92 79,2.71 80,2.76 81,2.64 82,2.87 83,3.34 84,3.67 85,3.67 86,3.34 87,3.54 88,3.7 89,3.67 90,3.84 91,3.75 92,3.92 93,3.67 94,3.34 95,2.92 96,2.92 97,3.25 98,3.84 99,4 100,4.17 101,3.92 102,4.04 103,4.14 104,4.25 105,4.47 106,4.3 107,4.04 108,3.59 109,4.04 110,4.37 111,4.34 112,3.59 113,3.04 114,2.84 115,2.76 116,2.59 117,2.71 118,2.76 119,3 120,2.84 121,2.92 122,2.87 123,3.09 124,3.17 125,3.5 126,3.59 127,3.67 128,3.54 129,3.2 130,3.09 131,2.97 132,2.92 133,2.87"/>
<polyline class="r" points="0,-4.05 1,-3.55 2,-3.34 3,-2.31 4,-2.14 5,-2.51 6,-3.06 7,-3.55 8,-3.67 9,-3.5 10,-3.6 11,-3.39 12,-3.6 13,-3.34 14,-3.06 15,-2.56 16,-3.22 17,-3.8 18,-3.84 19,-3.31 20,-2.97 21,-2.94 22,-2.56 23,-2.72 24,-3.39 25,-4 26,-3.97 27,-3.72 28,-3.5 29,-3.44 30,-3.64 31,-3.64 32,-3.64 33,-3.5 34,-3.94 35,-4.55 36,-4.97 37,-4.8 38,-5.22 39,-4.88 40,-5.22 41,-4.6 42,-4.72 43,-4.38 44,-4.05 45,-3.72 46,-4.1 47,-4.38 48,-5.22 49,-4.93 50,-4.88 51,-4.8 52,-4.97 53,-5.1 54,-5.1 55,-5.05 56,-4.88 57,-4.97 58,-5.33 59,-5.33 60,-5.27 61,-4.63 62,-4.88 63,-4.93 64,-5.22 65,-5.47 66,-5.71 67,-6.2 68,-6.4 69,-5.96 70,-5.47 71,-5.22 72,-5.18 73,-4.14 74,-3.31 75,-2.89 76,-3.22 77,-3.44 78,-3.22 79,-3.14 80,-2.44 81,-2.39 82,-2.01 83,-2.61 84,-2.72 85,-3.06 86,-2.81 87,-2.61 88,-2.39 89,-2.61 90,-2.64 91,-2.56 92,-2.56 93,-2.56 94,-2.94 95,-2.64 96,-2.72 97,-2.34 98,-2.31 99,-1.98 100,-1.73 101,-1.64 102,-1.4 103,-1.56 104,-1.56 105,-1.68 106,-1.48 107,-1.61 108,-1.56 109,-1.61 110,-1.15 111,-1.48 112,-1.98 113,-2.72 114,-3.06 115,-3.47 116,-2.94 117,-2.39 118,-2.23 119,-2.64 120,-2.97 121,-2.39 122,-2.34 123,-2.23 124,-2.44 125,-2.31 126,-1.68 127,-1.48 128,-1.31 129,-1.98 130,-1.94 131,-2.06 132,-2.48 133,-3.01"/>
<polyline class="b" points="0,-0.48 1,-0.32 2,0.1 3,0.6 4,1.01 5,1.1 6,0.68 7,0.6 8,0.43 9,0.38 10,-0.37 11,-0.61 12,-0.65 13,-0.15 14,0.55 15,0.81 16,0.81 17,0.51 18,0.47 19,0.43 20,0.18 21,0.4 22,0.43 23,0.6 24,0.15 25,-0.02 26,-0.1 27,-0.23 28,-0.38 29,-0.15 30,0.07 31,0.13 32,-0.18 33,-0.4 34,-0.73 35,-1.06 36,-1.26 37,-0.98 38,-0.78 39,-0.61 40,-0.95 41,-0.95 42,-0.73 43,-0.28 44,-0.32 45,-0.48 46,-0.73 47,-0.9 48,-1.26 49,-1.4 50,-1.4 51,-1.4 52,-1.35 53,-1.45 54,-1.4 55,-1.73 56,-1.76 57,-2.03 58,-2 59,-2 60,-2 61,-1.94 62,-2.18 63,-2.23 64,-2.48 65,-3.22 66,-3.72 67,-4.05 68,-3.72 69,-3.36 70,-3.1 71,-2.64 72,-1.81 73,-0.81 74,-0.15 75,-0.12 76,-0.35 77,-0.18 78,-0.28 79,0.02 80,0.1 81,0.32 82,0.35 83,0.35 84,0.27 85,0.13 86,0.1 87,0.6 88,0.93 89,0.93 90,0.6 91,0.48 92,0.38 93,0.48 94,0.35 95,0.35 96,0.18 97,0.35 98,0.55 99,0.85 100,0.98 101,0.98 102,1.1 103,1.15 104,1.15 105,1.15 106,1.15 107,1.23 108,1.31 109,1.43 110,1.59 111,1.35 112,0.68 113,-0.02 114,-0.23 115,-0.28 116,0.1 117,0.27 118,0.47 119,0.32 120,0.07 121,-0.02 122,-0.02 123,0.1 124,0.3 125,0.6 126,1.05 127,1.13 128,1.15 129,0.76 130,0.68 131,0.38 132,0.02 133,-0.18"/>
<polyline class="o" points="0,-0.48 1,-1 2,-1.6 3,-1.98 4,-1.65 5,-0.65 6,0.32 7,0.88 8,1.2 9,1.4 10,1.8 11,1.9 12,2.1 13,2.35 14,2.6 15,2.3 16,1.77 17,1.52 18,1.35 19,1.2 20,0.95 21,0.35 22,-0.23 23,-1.1 24,-1.58 25,-1.8 26,-1.65 27,-1.25 28,-1.3 29,-1.9 30,-2.47 31,-2.63 32,-2 33,-0.9 34,-0.18 35,-0.4 36,-1.15 37,-1.6 38,-1.5 39,-0.98 40,-0.6 41,-0.22 42,-0.45 43,-0.86 44,-1.15 45,-1.06 46,-1.1 47,-1.7 48,-2.06 49,-2.23 50,-2.25 51,-2.4 52,-2.8 53,-3.55 54,-4.33 55,-4.55 56,-4.23 57,-3.55 58,-2.92 59,-2.72 60,-3.06 61,-3.44 62,-3.36 63,-3.1 64,-3.07 65,-3.24 66,-3.2 67,-2.9 68,-2.3 69,-1.65 70,-0.98 71,-0.4 72,0.32 73,0.71 74,0.63 75,0.27 76,-0.03 77,-0.12 78,-0.32 79,-0.37 80,-0.03 81,0.18 82,0.15 83,-0.08 84,-0.23 85,-0.22 86,-0.25 87,-0.33 88,-0.15 89,0.43 90,0.96 91,1.3 92,1.6 93,2.1 94,2.62 95,3.04 96,3.37 97,3.59 98,3.59 99,3.17 100,2.48 101,1.6 102,1.01 103,0.65 104,1.05 105,1.68 106,2.2 107,2.2 108,2.15 109,2.38 110,2.56 111,2.7 112,2.6 113,2.6 114,2.87 115,3.05 116,2.92 117,2.43 118,2.1 119,2"/>
</g>
</g>
<use href="#ticks"/>
<text class="tl" x="74" y="-8">1000mb Z (14 day Forecast)</text>
<text class="tr" x="1168" y="-8">mean=-0.3419; cor(w/obs)=0.6776</text>
<text class="il" transform="translate(34.5,120.5) rotate(-90)">Index</text>
<g class="yl"><text x="63.5" y="5">6</text><text x="63.5" y="25.1">5</text><text x="63.5" y="45.2">4</text><text x="63.5" y="65.2">3</text><text x="63.5" y="85.3">2</text><text x="63.5" y="105.4">1</text><text x="63.5" y="125.5">0</text><text x="63.5" y="145.6">−1</text><text x="63.5" y="165.7">−2</text><text x="63.5" y="185.7">−3</text><text x="63.5" y="205.8">−4</text><text x="63.5" y="225.9">−5</text><text x="63.5" y="246">−6</text></g>
<g class="xl"><text x="164.6" y="261">15 Dec</text><text x="304.5" y="261">01 Jan</text><text x="419.8" y="261">15 Jan</text><text x="559.7" y="261">01 Feb</text><text x="675" y="261">15 Feb</text><text x="790.3" y="261">01 Mar</text><text x="905.6" y="261">15 Mar</text><text x="1045.5" y="261">01 Apr</text><text x="1160.8" y="261">15 Apr</text></g>
</g>
</svg>
</body></html>
